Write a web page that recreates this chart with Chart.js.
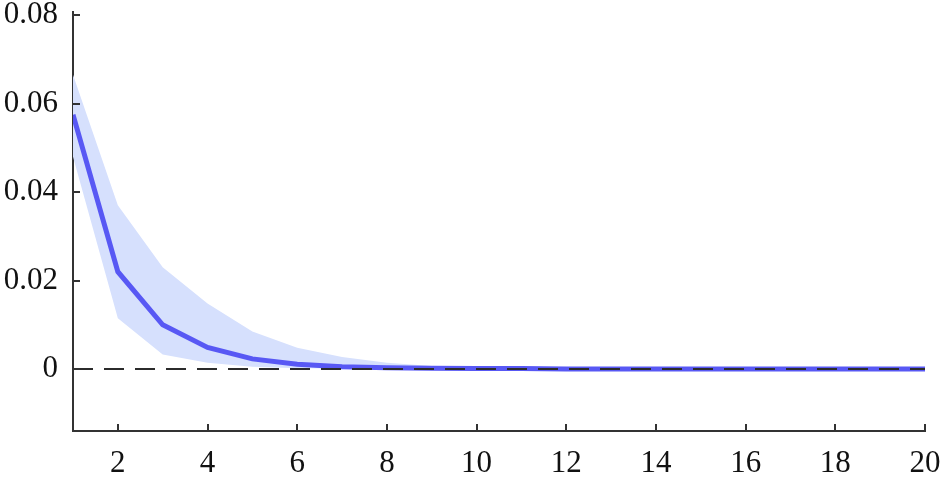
<!DOCTYPE html>
<html>
<head>
<meta charset="utf-8">
<script src="https://cdn.jsdelivr.net/npm/chart.js@4/dist/chart.umd.min.js"></script>
<style>
  html, body { margin: 0; padding: 0; background: #fff; }
  #wrap { width: 944px; height: 478px; }
</style>
</head>
<body>
<div id="wrap"><canvas id="irfChart"></canvas></div>
<script>
// horizon (periods) and estimated impulse response
const periods = [1, 2, 3, 4, 5, 6, 7, 8, 9, 10, 11, 12, 13, 14, 15, 16, 17, 18, 19, 20];
const response = [0.0575, 0.0220, 0.0100, 0.0049, 0.0023, 0.0011, 0.0005, 0.0003, 0.0002, 0.0001,
                  0.0001, 0, 0, 0, 0, 0, 0, 0, 0, 0];
const bandUpper = [0.0665, 0.0370, 0.0230, 0.0148, 0.0085, 0.0048, 0.0027, 0.0014, 0.0007, 0.0003,
                   0.0002, 0.0001, 0, 0, 0, 0, 0, 0, 0, 0];
const bandLower = [0.0480, 0.0115, 0.0033, 0.0014, 0.0005, 0.0002, 0.0001, 0, 0, 0,
                   0, 0, 0, 0, 0, 0, 0, 0, 0, 0];

const xTicks = [2, 4, 6, 8, 10, 12, 14, 16, 18, 20];
const yTicks = [0, 0.02, 0.04, 0.06, 0.08];
const refLevel = 0;

const axisColor = '#333333';
const pts = arr => arr.map((v, i) => ({ x: periods[i], y: v }));

// dashed zero line on top of the response + matlab-style inward ticks
const axisDecor = {
    id: 'axisDecor',
    afterDatasetsDraw(chart) {
        const { ctx, chartArea, scales: { y } } = chart;
        const py = Math.round(y.getPixelForValue(refLevel));
        ctx.save();
        ctx.strokeStyle = '#2b2b2b';
        ctx.lineWidth = 2;
        ctx.setLineDash([20, 11]);
        ctx.beginPath();
        ctx.moveTo(chartArea.left, py);
        ctx.lineTo(chartArea.right, py);
        ctx.stroke();
        ctx.restore();
    },
    afterDraw(chart) {
        const { ctx, chartArea, scales: { x, y } } = chart;
        ctx.save();
        ctx.strokeStyle = axisColor;
        ctx.lineWidth = 2;
        ctx.beginPath();
        xTicks.forEach(v => {
            const px = Math.round(x.getPixelForValue(v));
            ctx.moveTo(px, chartArea.bottom);
            ctx.lineTo(px, chartArea.bottom - 7);
        });
        yTicks.forEach(v => {
            const py = Math.round(y.getPixelForValue(v));
            ctx.moveTo(chartArea.left, py);
            ctx.lineTo(chartArea.left + 7, py);
        });
        ctx.stroke();
        ctx.restore();
    }
};

Chart.defaults.font.family = "'Liberation Serif', 'Times New Roman', serif";
Chart.defaults.font.size = 31;
Chart.defaults.color = '#111';

const ctx = document.getElementById('irfChart').getContext('2d');
new Chart(ctx, {
    type: 'line',
    data: {
        datasets: [
            {
                label: 'response',
                data: pts(response),
                borderColor: '#5858f4',
                borderWidth: 5,
                pointRadius: 0,
                tension: 0,
                order: 1
            },
            {
                label: 'upper',
                data: pts(bandUpper),
                borderWidth: 0,
                borderColor: 'rgba(0,0,0,0)',
                backgroundColor: '#d6e0fd',
                pointRadius: 0,
                fill: '+1',
                order: 2
            },
            {
                label: 'lower',
                data: pts(bandLower),
                borderWidth: 0,
                borderColor: 'rgba(0,0,0,0)',
                pointRadius: 0,
                fill: false,
                order: 3
            }
        ]
    },
    options: {
        responsive: true,
        maintainAspectRatio: false,
        animation: false,
        layout: { padding: { top: 12, right: 19, left: 0, bottom: 0 } },
        plugins: {
            legend: { display: false },
            tooltip: { enabled: false }
        },
        scales: {
            x: {
                type: 'linear',
                min: 1,
                max: 20,
                afterBuildTicks: axis => { axis.ticks = xTicks.map(v => ({ value: v })); },
                afterFit: axis => {
                    axis.height = 47;
                    axis.paddingLeft = 0;
                    axis.paddingRight = 0;
                },
                grid: { display: true, drawOnChartArea: false, drawTicks: false },
                border: { display: true, color: axisColor, width: 2 },
                ticks: { padding: 14, maxRotation: 0, autoSkip: false }
            },
            y: {
                min: -0.014,
                max: 0.0807,
                afterBuildTicks: axis => { axis.ticks = yTicks.map(v => ({ value: v })); },
                afterFit: axis => {
                    axis.width = 73;
                    axis.paddingTop = 0;
                    axis.paddingBottom = 0;
                },
                grid: { display: true, drawOnChartArea: false, drawTicks: false },
                border: { display: true, color: axisColor, width: 2 },
                ticks: {
                    padding: 15,
                    callback: v => (v === 0 ? '0' : v.toFixed(2))
                }
            }
        }
    },
    plugins: [axisDecor]
});
</script>
</body>
</html>
